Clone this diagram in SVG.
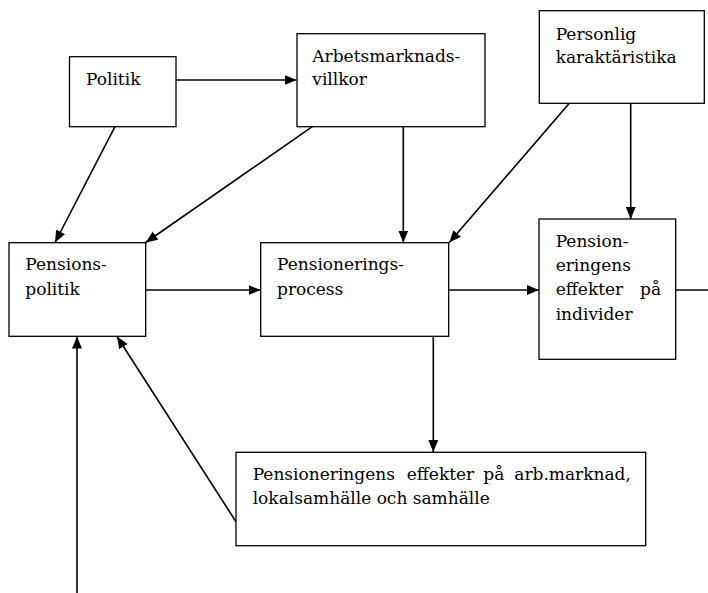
<svg xmlns="http://www.w3.org/2000/svg" width="708" height="593" viewBox="0 0 708 593">
<style>
.box{fill:#fff;stroke:#000;stroke-width:1.3}
.t{font-family:"DejaVu Serif","Liberation Serif",serif;font-size:17px;fill:#000}
.c{stroke:#000;stroke-width:1.6;fill:none}
.a{marker-end:url(#ah)}
</style>
<defs>
<marker id="ah" markerUnits="userSpaceOnUse" markerWidth="13" markerHeight="11" refX="12" refY="5" orient="auto">
<path d="M0,0 L12,5 L0,10 z" fill="#000"/>
</marker>
</defs>
<g id="connectors">
<line class="c a" x1="176" y1="80" x2="296.5" y2="80"/>
<line class="c a" x1="115" y1="126.7" x2="55" y2="242.5"/>
<line class="c a" x1="312.3" y1="126.7" x2="145.7" y2="242.5"/>
<line class="c a" x1="403.3" y1="126.7" x2="403.3" y2="242.5"/>
<line class="c a" x1="569.3" y1="103.3" x2="449.3" y2="242.5"/>
<line class="c a" x1="630.7" y1="103.3" x2="630.7" y2="219"/>
<line class="c a" x1="145.7" y1="290" x2="260.5" y2="290"/>
<line class="c a" x1="448.7" y1="290" x2="538.8" y2="290"/>
<line class="c" x1="675.7" y1="290" x2="708" y2="290"/>
<line class="c a" x1="433.3" y1="336.3" x2="433.3" y2="452"/>
<line class="c a" x1="236" y1="521.7" x2="117" y2="336.5"/>
<line class="c a" x1="77" y1="593" x2="77" y2="336.5"/>
</g>
<g id="politik">
<rect class="box" x="69.5" y="56.7" width="106.5" height="70"/>
<text class="t" x="86" y="85">Politik</text>
</g>
<g id="arbetsmarknadsvillkor">
<rect class="box" x="297" y="33.7" width="188" height="93"/>
<text class="t" x="312.3" y="61.5">Arbetsmarknads-</text>
<text class="t" x="312.3" y="85">villkor</text>
</g>
<g id="personlig">
<rect class="box" x="539.3" y="10.7" width="165" height="92.6"/>
<text class="t" x="555.7" y="40">Personlig</text>
<text class="t" x="555.7" y="63">karaktäristika</text>
</g>
<g id="pensionspolitik">
<rect class="box" x="9" y="242.7" width="136.7" height="93.6"/>
<text class="t" x="25.3" y="270">Pensions-</text>
<text class="t" x="25.3" y="295">politik</text>
</g>
<g id="pensioneringsprocess">
<rect class="box" x="260.7" y="242.7" width="188" height="93.6"/>
<text class="t" x="277" y="270">Pensionerings-</text>
<text class="t" x="277" y="295">process</text>
</g>
<g id="effekter-individer">
<rect class="box" x="539" y="219" width="136.7" height="140.3"/>
<text class="t" x="555.7" y="246.7">Pension-</text>
<text class="t" x="555.7" y="270.7">eringens</text>
<text class="t"><tspan x="555.7" y="295">effekter</tspan><tspan x="640" y="295">på</tspan></text>
<text class="t" x="555.7" y="320">individer</text>
</g>
<g id="effekter-samhalle">
<rect class="box" x="236" y="452.3" width="409.7" height="93.4"/>
<text class="t"><tspan x="252.7" y="480">Pensioneringens</tspan><tspan x="406.7" y="480">effekter</tspan><tspan x="483.3" y="480">på</tspan><tspan x="514.3" y="480">arb.marknad,</tspan></text>
<text class="t" x="252.7" y="504">lokalsamhälle och samhälle</text>
</g>
</svg>
